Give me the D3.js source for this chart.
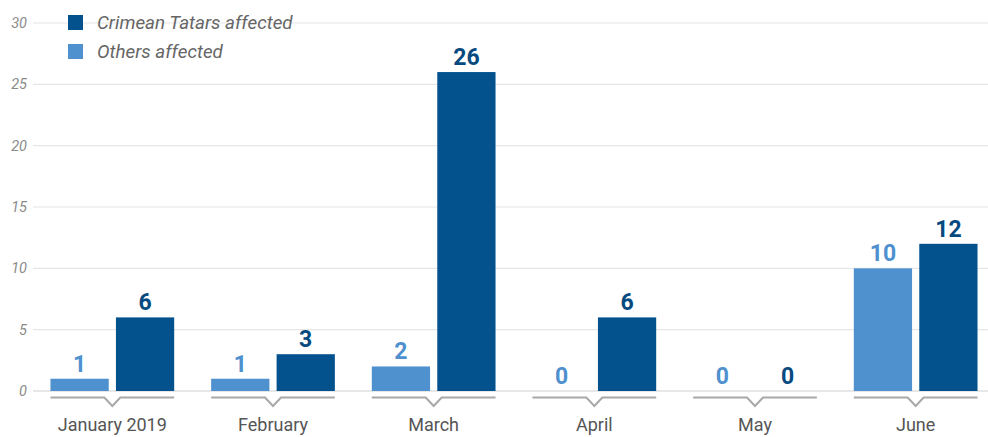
<!DOCTYPE html>
<html>
<head>
<meta charset="utf-8">
<script src="https://cdn.jsdelivr.net/npm/d3@7"></script>
<style>
	body { margin: 0; background: #fff; }
	text { font-family: Roboto, sans-serif; }
</style>
</head>
<body>
<svg id="chart"></svg>
<script>
const months = ['January 2019', 'February', 'March', 'April', 'May', 'June'];
const others = [1, 1, 2, 0, 0, 10];
const tatars = [6, 3, 26, 6, 0, 12];
const yTicks = [0, 5, 10, 15, 20, 25, 30];
const seriesNames = ['Crimean Tatars affected', 'Others affected'];

const w = 988;
const h = 437;
const darkBlue = '#03528e';
const lightBlue = '#4f90cf';

const svg = d3.select('#chart')
	.attr('width', w)
	.attr('height', h);

const x = d3.scaleBand()
	.domain(months)
	.range([32, 996])
	.paddingInner(0.23)
	.paddingOuter(0.115);

const xInner = d3.scaleBand()
	.domain(['others', 'tatars'])
	.range([0, x.bandwidth()])
	.paddingInner(0.11);

const y = d3.scaleLinear()
	.domain([0, 30])
	.range([391, 23]);

// grid
const grid = svg.append('g');
grid.selectAll('line')
	.data(yTicks)
	.join('line')
	.attr('x1', 33)
	.attr('x2', w)
	.attr('y1', d => y(d))
	.attr('y2', d => y(d))
	.attr('stroke', d => d === 0 ? '#d0d0d0' : '#e6e6e6')
	.attr('stroke-width', 1.2);

grid.selectAll('text')
	.data(yTicks)
	.join('text')
	.attr('x', 27)
	.attr('y', d => y(d) + 5)
	.attr('text-anchor', 'end')
	.attr('font-size', 14.5)
	.attr('font-style', 'italic')
	.attr('fill', '#8a8a8a')
	.text(d => d);

// bars
const rows = months.map((m, i) => ({ month: m, values: [
	{ key: 'others', v: others[i], color: lightBlue },
	{ key: 'tatars', v: tatars[i], color: darkBlue }
] }));

const groups = svg.append('g').selectAll('g')
	.data(rows)
	.join('g')
	.attr('transform', d => `translate(${x(d.month)},0)`);

groups.selectAll('rect')
	.data(d => d.values)
	.join('rect')
	.attr('x', d => xInner(d.key))
	.attr('width', xInner.bandwidth())
	.attr('y', d => y(d.v))
	.attr('height', d => y(0) - y(d.v))
	.attr('fill', d => d.color);

groups.selectAll('text.val')
	.data(d => d.values)
	.join('text')
	.attr('class', 'val')
	.attr('x', d => xInner(d.key) + xInner.bandwidth() / 2)
	.attr('y', d => y(d.v) - 7)
	.attr('text-anchor', 'middle')
	.attr('font-size', 23)
	.attr('font-weight', 'bold')
	.attr('fill', d => d.key === 'others' ? lightBlue : '#064a80')
	.text(d => d.v);

// bracket under each month
groups.append('path')
	.attr('d', () => {
		const bw = x.bandwidth();
		const c = bw / 2;
		return `M0,397.5 H${c - 8} L${c},406 L${c + 8},397.5 H${bw}`;
	})
	.attr('fill', 'none')
	.attr('stroke', '#a8a8a8')
	.attr('stroke-width', 2);

groups.append('text')
	.attr('x', x.bandwidth() / 2)
	.attr('y', 431)
	.attr('text-anchor', 'middle')
	.attr('font-size', 18)
	.attr('fill', '#555')
	.text(d => d.month);

// legend
const legend = svg.append('g');
const legendItems = legend.selectAll('g')
	.data(seriesNames)
	.join('g')
	.attr('transform', (d, i) => `translate(68,${15 + i * 29})`);

legendItems.append('rect')
	.attr('width', 15)
	.attr('height', 15)
	.attr('fill', (d, i) => i === 0 ? darkBlue : lightBlue);

legendItems.append('text')
	.attr('x', 29)
	.attr('y', 14)
	.attr('font-size', 18.8)
	.attr('font-style', 'italic')
	.attr('fill', '#666')
	.text(d => d);
</script>
</body>
</html>
